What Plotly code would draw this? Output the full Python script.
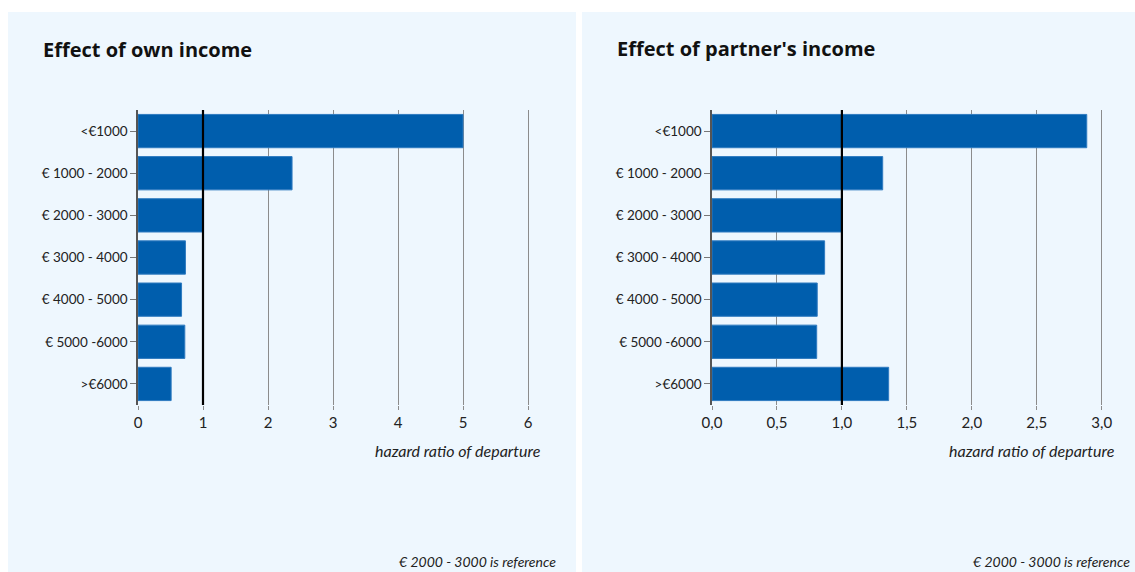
import plotly.graph_objects as go

categories = ["<€1000", "€ 1000 - 2000", "€ 2000 - 3000", "€ 3000 - 4000",
              "€ 4000 - 5000", "€ 5000 -6000", ">€6000"]
own_income = [5.0, 2.37, 1.0, 0.73, 0.67, 0.72, 0.51]
partner_income = [2.885, 1.314, 1.0, 0.867, 0.81, 0.806, 1.36]

own_ticks = [0, 1, 2, 3, 4, 5, 6]
own_ticklabels = ["0", "1", "2", "3", "4", "5", "6"]
partner_ticks = [0, 0.5, 1.0, 1.5, 2.0, 2.5, 3.0]
partner_ticklabels = ["0,0", "0,5", "1,0", "1,5", "2,0", "2,5", "3,0"]

titles = ["Effect of own income", "Effect of partner's income"]
xlabel = "hazard ratio of departure"
footnote = "€ 2000 - 3000 is reference"

W, H = 1135, 572
BAR = "#005EAD"
PANEL = "#EEF7FE"
FONT = "Lato, 'Open Sans', sans-serif"
TFONT = "'Open Sans', sans-serif"


def fx(px):
    return px / W


def fy(py):
    return 1 - py / H


fig = go.Figure()

fig.add_trace(go.Bar(y=categories, x=own_income, orientation="h",
                     marker=dict(color=BAR, line=dict(color="#2F7BC0", width=1)),
                     width=0.79, xaxis="x", yaxis="y", showlegend=False,
                     hoverinfo="x+y"))
fig.add_trace(go.Bar(y=categories, x=partner_income, orientation="h",
                     marker=dict(color=BAR, line=dict(color="#2F7BC0", width=1)),
                     width=0.79, xaxis="x2", yaxis="y2", showlegend=False,
                     hoverinfo="x+y"))

ydom = [fy(405), fy(110)]
common_x = dict(showgrid=True, gridcolor="#8C8C8C", gridwidth=1, zeroline=False,
                showline=False, ticks="outside", ticklen=4, tickcolor="#8C8C8C",
                tickfont=dict(size=15, color="#222", family=FONT),
                fixedrange=True, automargin=False)
common_y = dict(type="category", autorange="reversed", showline=True, linecolor="#555",
                linewidth=1.5, ticks="outside", ticklen=6, tickcolor="#777", tickwidth=1,
                showgrid=False, tickfont=dict(size=13.5, color="#222", family=FONT),
                domain=ydom, fixedrange=True, automargin=False)

fig.update_layout(
    width=W, height=H,
    margin=dict(l=0, r=0, t=0, b=0),
    paper_bgcolor="white",
    plot_bgcolor="rgba(0,0,0,0)",
    bargap=0.2,
    xaxis=dict(common_x, domain=[fx(138), fx(138 + 65 * 6.1)], range=[0, 6.1],
               tickvals=own_ticks, ticktext=own_ticklabels, anchor="y"),
    yaxis=dict(common_y, anchor="x"),
    xaxis2=dict(common_x, domain=[fx(712), fx(712 + 129.9 * 3.05)], range=[0, 3.05],
                tickvals=partner_ticks, ticktext=partner_ticklabels, anchor="y2"),
    yaxis2=dict(common_y, anchor="x2"),
    shapes=[
        dict(type="rect", xref="paper", yref="paper", x0=fx(8), x1=fx(576),
             y0=0, y1=fy(12), fillcolor=PANEL, line=dict(width=0), layer="below"),
        dict(type="rect", xref="paper", yref="paper", x0=fx(582), x1=1,
             y0=0, y1=fy(12), fillcolor=PANEL, line=dict(width=0), layer="below"),
        dict(type="line", xref="x", yref="y domain", x0=1, x1=1, y0=0, y1=1,
             line=dict(color="black", width=2.2), layer="above"),
        dict(type="line", xref="x2", yref="y2 domain", x0=1, x1=1, y0=0, y1=1,
             line=dict(color="black", width=2.2), layer="above"),
    ],
    annotations=[
        dict(text="<b>" + titles[0] + "</b>", xref="paper", yref="paper",
             x=fx(41), y=fy(50), xanchor="left", yanchor="middle", showarrow=False,
             font=dict(size=20, color="#111", family=TFONT)),
        dict(text="<b>" + titles[1] + "</b>", xref="paper", yref="paper",
             x=fx(615), y=fy(48), xanchor="left", yanchor="middle", showarrow=False,
             font=dict(size=20, color="#111", family=TFONT)),
        dict(text="<i>" + xlabel + "</i>", xref="paper", yref="paper",
             x=fx(543), y=fy(450), xanchor="right", yanchor="middle", showarrow=False,
             font=dict(size=16, color="#222", family=FONT)),
        dict(text="<i>" + xlabel + "</i>", xref="paper", yref="paper",
             x=fx(1117), y=fy(450), xanchor="right", yanchor="middle", showarrow=False,
             font=dict(size=16, color="#222", family=FONT)),
        dict(text="<i>" + footnote + "</i>", xref="paper", yref="paper",
             x=fx(558), y=fy(561), xanchor="right", yanchor="middle", showarrow=False,
             font=dict(size=14, color="#222", family=FONT)),
        dict(text="<i>" + footnote + "</i>", xref="paper", yref="paper",
             x=fx(1132), y=fy(561), xanchor="right", yanchor="middle", showarrow=False,
             font=dict(size=14, color="#222", family=FONT)),
    ],
)

fig.write_html("out.html", config={"displayModeBar": False},
               post_script="document.body.style.margin='0';document.body.style.overflow='hidden';")
